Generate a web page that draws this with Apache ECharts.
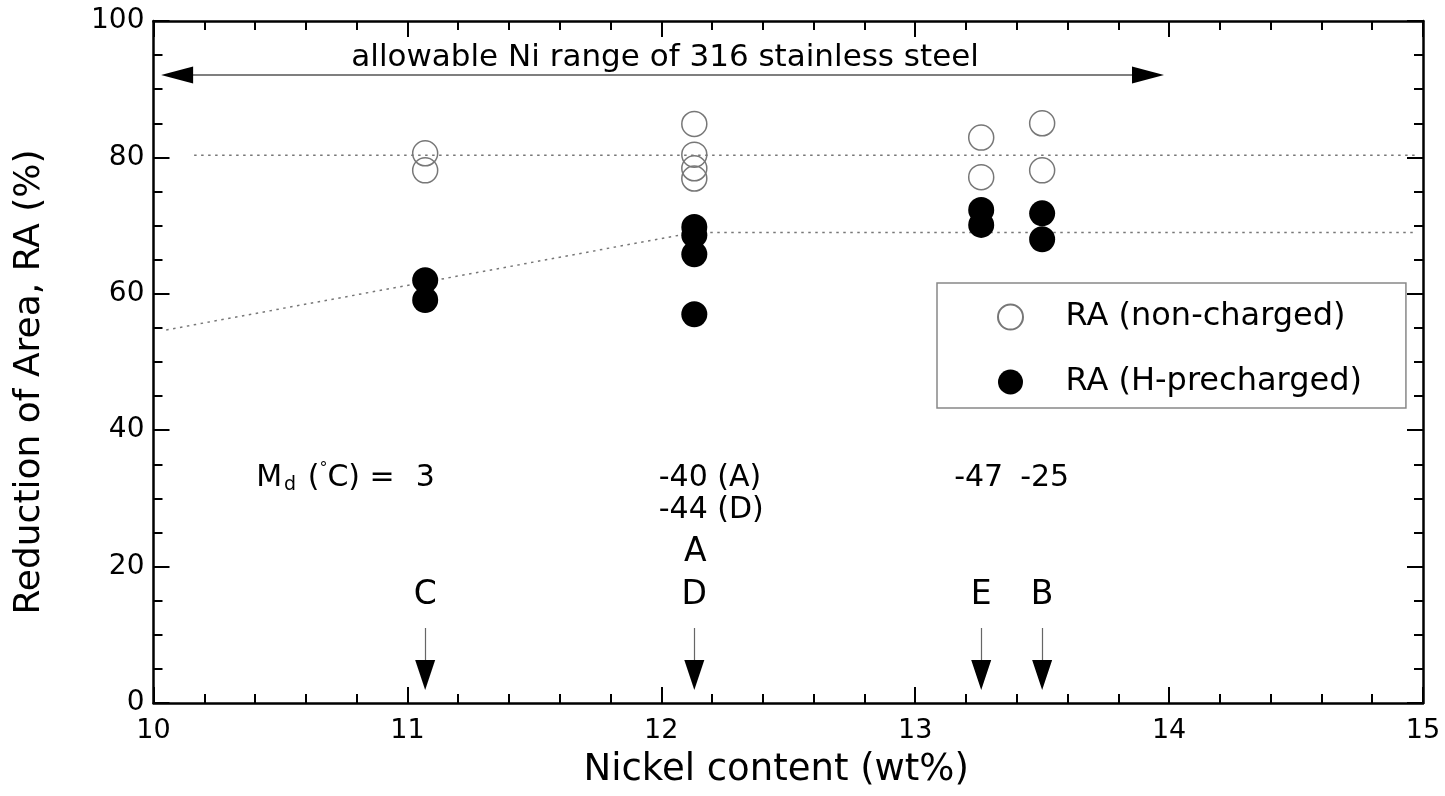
<!DOCTYPE html>
<html>
<head>
<meta charset="UTF-8">
<title>Reduction of Area vs Nickel content</title>
<script type="text/javascript" src="https://cdn.jsdelivr.net/npm/echarts@6/dist/echarts.min.js"></script>
<style type="text/css">
	html, body { margin: 0; padding: 0; background: #fff; }
	#main { width: 1445px; height: 796px; }
</style>
</head>
<body>
<div id="main"></div>
<script type="text/javascript">
	// measured points (Ni wt%, RA %)
	var nonChargedX = [11.07, 11.07, 12.13, 12.13, 12.13, 12.13, 13.26, 13.26, 13.5, 13.5];
	var nonChargedY = [80.6, 78.1, 84.9, 80.4, 78.4, 76.9, 82.9, 77.1, 85.0, 78.1];
	var hChargedX = [11.07, 11.07, 12.13, 12.13, 12.13, 12.13, 13.26, 13.26, 13.5, 13.5];
	var hChargedY = [62.0, 59.1, 69.8, 68.6, 65.8, 57.0, 72.3, 70.1, 71.8, 68.0];

	// dotted guide lines
	var upperGuide = [[10.16, 80.3], [14.97, 80.3]];
	var lowerGuide = [[10.05, 54.7], [12.13, 69.0], [14.97, 69.0]];

	// alloy markers (letters + arrows)
	var alloyNames = ['C', 'D', 'E', 'B'];
	var alloyNi = [11.07, 12.13, 13.26, 13.5];
	var mdValues = ['3', '-40 (A)', '-47', '-25'];

	// allowable Ni range arrow
	var rangeFrom = 10.03, rangeTo = 13.98, rangeY = 92.1;

	var FONT = 'DejaVu Sans';

	function pairs(xs, ys) {
		var out = [];
		for (var i = 0; i < xs.length; i++) out.push([xs[i], ys[i]]);
		return out;
	}

	var chart = echarts.init(document.getElementById('main'));

	var baseAxis = {
		min: 10, max: 15, interval: 1,
		axisLine: { show: true, onZero: false, lineStyle: { color: '#000', width: 2.5 } },
		axisTick: { show: true, inside: true, length: 16, lineStyle: { color: '#000', width: 2 } },
		minorTick: { show: true, splitNumber: 5, length: 9, lineStyle: { color: '#000', width: 2 } },
		splitLine: { show: false }
	};

	// label annotations
	var annoData = [];
	for (var i = 0; i < alloyNames.length; i++) {
		annoData.push({ value: [alloyNi[i], 15.8], name: alloyNames[i], label: { fontSize: 33 } });
	}
	annoData.push({ value: [12.134, 22.1], name: 'A', label: { fontSize: 33 } });
	annoData.push({ value: [alloyNi[0], 33.0], name: mdValues[0] });
	annoData.push({ value: [11.99, 33.0], name: mdValues[1], label: { align: 'left' } });
	annoData.push({ value: [11.99, 28.3], name: '-44 (D)', label: { align: 'left' } });
	annoData.push({ value: [alloyNi[2] - 0.01, 33.0], name: mdValues[2] });
	annoData.push({ value: [alloyNi[3] + 0.01, 33.0], name: mdValues[3] });
	annoData.push({ value: [10.95, 33.0], name: 'M{sub|d} ({sup|°}C) =', label: { align: 'right' } });
	annoData.push({ value: [12.015, 94.6], name: 'allowable Ni range of 316 stainless steel', label: { fontSize: 31 } });

	var stems = [];
	for (var j = 0; j < alloyNi.length; j++) {
		stems.push({ coords: [[alloyNi[j], 11.0], [alloyNi[j], 6.2]] });
	}
	var heads = [];
	for (var k = 0; k < alloyNi.length; k++) {
		heads.push({ value: [alloyNi[k], 4.1], symbolRotate: 180 });
	}
	heads.push({ value: [rangeFrom + 0.063, rangeY], symbolRotate: 90, symbolSize: [17, 32] });
	heads.push({ value: [rangeTo - 0.063, rangeY], symbolRotate: -90, symbolSize: [17, 32] });

	var option = {
		animation: false,
		backgroundColor: '#fff',
		textStyle: { fontFamily: FONT },
		grid: { left: 153.5, right: 22, top: 21, bottom: 93 },
		legend: {
			orient: 'vertical',
			left: 937, top: 283,
			padding: [17, 44, 9, 60],
			itemGap: 31,
			itemWidth: 100, itemHeight: 25,
			borderColor: '#888', borderWidth: 1.5,
			backgroundColor: '#fff',
			textStyle: { fontFamily: FONT, fontSize: 32, color: '#000', lineHeight: 34 },
			data: ['RA (non-charged)', 'RA (H-precharged)']
		},
		xAxis: [
			echarts.util.merge({
				type: 'value', position: 'bottom',
				name: 'Nickel content (wt%)', nameLocation: 'middle', nameGap: 49,
				nameTextStyle: { fontFamily: FONT, fontSize: 37, color: '#000', padding: [0, 24, 0, 0] },
				axisLabel: { margin: 14, fontFamily: FONT, fontSize: 27, color: '#000' }
			}, baseAxis, true),
			echarts.util.merge({ type: 'value', position: 'top', axisLabel: { show: false } }, baseAxis, true)
		],
		yAxis: [
			{
				type: 'value', position: 'left', min: 0, max: 100, interval: 20,
				name: 'Reduction of Area, RA (%)', nameLocation: 'middle', nameGap: 106,
				nameTextStyle: { fontFamily: FONT, fontSize: 36, color: '#000', padding: [0, 40, 0, 0] },
				axisLine: { show: true, onZero: false, lineStyle: { color: '#000', width: 2.5 } },
				axisTick: { show: true, inside: true, length: 16, lineStyle: { color: '#000', width: 2 } },
				minorTick: { show: true, splitNumber: 4, length: 9, lineStyle: { color: '#000', width: 2 } },
				axisLabel: { margin: 9, fontFamily: FONT, fontSize: 28, color: '#000' },
				splitLine: { show: false }
			},
			{
				type: 'value', position: 'right', min: 0, max: 100, interval: 20,
				axisLine: { show: true, onZero: false, lineStyle: { color: '#000', width: 2.5 } },
				axisTick: { show: true, inside: true, length: 16, lineStyle: { color: '#000', width: 2 } },
				minorTick: { show: true, splitNumber: 4, length: 9, lineStyle: { color: '#000', width: 2 } },
				axisLabel: { show: false },
				splitLine: { show: false }
			}
		],
		series: [
			{
				name: 'upperGuide', type: 'line', data: upperGuide, symbol: 'none', z: 1,
				lineStyle: { color: '#777', width: 1.5, type: [2.5, 4.5] }
			},
			{
				name: 'lowerGuide', type: 'line', data: lowerGuide, symbol: 'none', z: 1,
				lineStyle: { color: '#777', width: 1.5, type: [2.5, 4.5] }
			},
			{
				name: 'range', type: 'line', data: [[rangeFrom + 0.05, rangeY], [rangeTo - 0.05, rangeY]],
				symbol: 'none', z: 2, lineStyle: { color: '#555', width: 1.5 }
			},
			{
				name: 'stems', type: 'lines', coordinateSystem: 'cartesian2d', data: stems,
				lineStyle: { color: '#666', width: 1.2, opacity: 1 }, z: 2
			},
			{
				name: 'heads', type: 'scatter', data: heads, symbol: 'triangle', symbolSize: [20, 30],
				itemStyle: { color: '#000', opacity: 1 }, z: 3, silent: true
			},
			{
				name: 'RA (non-charged)', type: 'scatter', data: pairs(nonChargedX, nonChargedY),
				symbol: 'circle', symbolSize: 25, z: 4,
				itemStyle: { color: 'rgba(255,255,255,0)', borderColor: '#777', borderWidth: 1.5, opacity: 1 }
			},
			{
				name: 'RA (H-precharged)', type: 'scatter', data: pairs(hChargedX, hChargedY),
				symbol: 'circle', symbolSize: 26, z: 4,
				itemStyle: { color: '#000', opacity: 1 }
			},
			{
				name: 'annotations', type: 'scatter', data: annoData, symbolSize: 0, z: 5, silent: true,
				itemStyle: { opacity: 1 },
				label: {
					show: true, position: 'inside', formatter: '{b}', color: '#000',
					fontFamily: FONT, fontSize: 30,
					rich: {
						sub: { fontFamily: FONT, fontSize: 19, verticalAlign: 'bottom', padding: [15, 2, 0, 2] },
						sup: { fontFamily: FONT, fontSize: 16, verticalAlign: 'top', padding: [0, 0, 10, 0] }
					}
				}
			}
		]
	};
	chart.setOption(option);
</script>
</body>
</html>
